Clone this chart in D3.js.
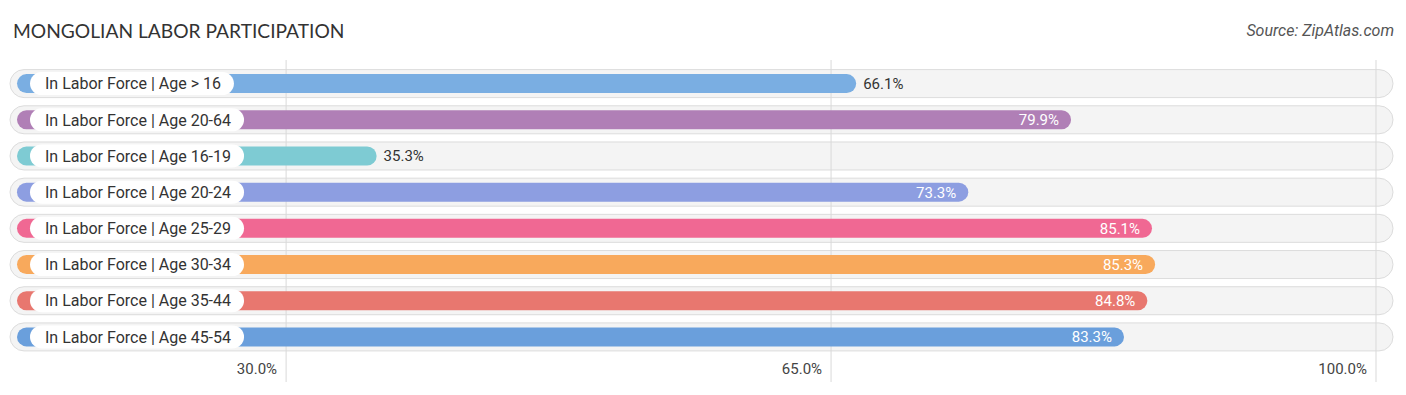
<!DOCTYPE html>
<html><head><meta charset="utf-8">
<script src="https://cdn.jsdelivr.net/npm/d3@7"></script>
<style>body{margin:0;background:#fff}svg{display:block}</style>
</head><body>
<svg id="c" width="1406" height="395"></svg>
<script>
const categories = ["In Labor Force | Age > 16","In Labor Force | Age 20-64","In Labor Force | Age 16-19","In Labor Force | Age 20-24","In Labor Force | Age 25-29","In Labor Force | Age 30-34","In Labor Force | Age 35-44","In Labor Force | Age 45-54"];
const values = [66.1, 79.9, 35.3, 73.3, 85.1, 85.3, 84.8, 83.3];
const colors = ["#7aaee2","#b07fb6","#7ecbd3","#8d9ee1","#f06893","#f8a95c","#e8776f","#6a9fdc"];
const ticks = [30, 65, 100];
const tickLabels = ["30.0%","65.0%","100.0%"];
const title = "MONGOLIAN LABOR PARTICIPATION";
const source = "Source: ZipAtlas.com";

const svg = d3.select("#c");
const x = d3.scaleLinear().domain([0, 100]).range([-173, 1384]);
const y = d3.scaleBand().domain(categories).range([65.5, 355]).paddingInner(0.2).paddingOuter(0.1);
const gridOffset = -8;

svg.append("text").attr("x", 13).attr("y", 38).text(title)
  .attr("font-family", "Lato, 'Open Sans', sans-serif").attr("font-size", 19.2).attr("fill", "#333");
svg.append("text").attr("x", 1394).attr("y", 36).attr("text-anchor", "end").text(source)
  .attr("font-family", "Roboto, sans-serif").attr("font-size", 16).attr("font-style", "italic").attr("fill", "#555");

const trackH = 28, barH = 19, pillH = 23;
const rows = svg.append("g");
const row = rows.selectAll("g").data(categories).join("g")
  .attr("transform", d => `translate(0,${y(d) + y.bandwidth()/2})`);

row.append("rect").attr("x", 10).attr("y", -trackH/2).attr("width", 1383).attr("height", trackH)
  .attr("rx", trackH/2).attr("fill", "#f4f4f4").attr("stroke", "#dcdcdc").attr("stroke-width", 1);

// gridlines
svg.append("g").selectAll("line").data(ticks).join("line")
  .attr("x1", d => x(d) + gridOffset).attr("x2", d => x(d) + gridOffset)
  .attr("y1", 60).attr("y2", 382).attr("stroke", "#d9d9d9").attr("stroke-width", 1);

const bars = svg.append("g");
const brow = bars.selectAll("g").data(categories).join("g")
  .attr("transform", d => `translate(0,${y(d) + y.bandwidth()/2})`);

brow.append("rect").attr("x", 17).attr("y", -barH/2)
  .attr("width", (d, i) => x(values[i]) - 17).attr("height", barH)
  .attr("rx", barH/2).attr("fill", (d, i) => colors[i]);

const pills = brow.append("rect").attr("x", 30).attr("y", -pillH/2).attr("height", pillH).attr("rx", pillH/2)
  .attr("fill", "#fff");
const labels = brow.append("text").attr("x", 45).attr("y", 0).attr("dy", "0.36em")
  .text(d => d).attr("font-family", "Roboto, sans-serif").attr("font-size", 16).attr("fill", "#333");
pills.attr("width", function(d, i) { return labels.nodes()[i].getComputedTextLength() + 28; });

brow.append("text")
  .attr("x", (d, i) => values[i] > 70 ? x(values[i]) - 12 : x(values[i]) + 7)
  .attr("y", 0).attr("dy", "0.36em")
  .attr("text-anchor", (d, i) => values[i] > 70 ? "end" : "start")
  .attr("fill", (d, i) => values[i] > 70 ? "#fff" : "#333")
  .attr("font-family", "Roboto, sans-serif").attr("font-size", 15)
  .text((d, i) => values[i].toFixed(1) + "%");

svg.append("g").selectAll("text").data(ticks).join("text")
  .attr("x", d => x(d) + gridOffset - 9).attr("y", 374).attr("text-anchor", "end")
  .attr("font-family", "Roboto, sans-serif").attr("font-size", 15).attr("fill", "#444")
  .text((d, i) => tickLabels[i]);
</script>
</body></html>
